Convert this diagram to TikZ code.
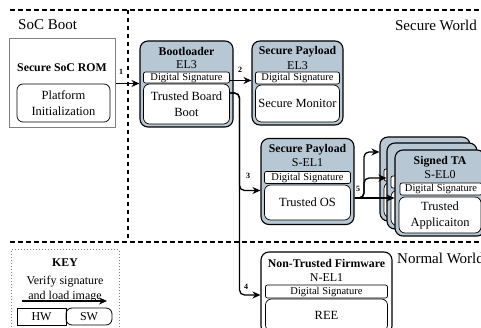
\documentclass[tikz,border=0pt]{standalone}
\usepackage{fontspec}
\setmainfont{Liberation Serif}
\usetikzlibrary{arrows.meta}
\definecolor{boxgray}{RGB}{184,199,212}
\begin{document}
\begin{tikzpicture}[x=1pt,y=-1pt,
  outer/.style={draw, line width=1.1pt, rounded corners=8pt, fill=boxgray, inner sep=0pt},
  ds/.style={draw, line width=0.7pt, rounded corners=2pt, fill=white, inner sep=0pt, font=\fontsize{10.5}{10.5}\selectfont},
  inbox/.style={draw, line width=0.7pt, rounded corners=6pt, fill=white, inner sep=0pt, align=center, font=\fontsize{12.5}{16}\selectfont},
  ttl/.style={font=\bfseries\fontsize{11.8}{12}\selectfont, inner sep=0pt},
  sub/.style={font=\fontsize{12}{12}\selectfont, inner sep=0pt},
  num/.style={font=\bfseries\fontsize{8}{8}\selectfont, inner sep=0pt},
  arr/.style={line width=1.3pt, -{Stealth[length=8pt,width=7pt]}, rounded corners=5pt},
  sep/.style={line width=1.4pt, dash pattern=on 4.5pt off 3.5pt},
  big/.style={font=\fontsize{15}{15}\selectfont, inner sep=0pt},
]
\useasboundingbox (0,0) rectangle (481,328);

% separators
\draw[sep] (10,10) -- (481,10);
\draw[sep] (10,242) -- (481,242);
\draw[sep] (128,10) -- (128,242);

\node[big, anchor=west] (socboot) at (18,25) {SoC Boot};
\node[big, anchor=east] (secworld) at (477,25) {Secure World};
\node[big, anchor=west] (normworld) at (397,258) {Normal World};

% Secure SoC ROM
\node[draw=gray, line width=1pt, minimum width=106pt, minimum height=89pt, inner sep=0pt] (rom) at (62,83.5) {};
\node[ttl] (romt) at (62,68) {Secure SoC ROM};
\node[inbox, minimum width=93pt, minimum height=38pt] (plat) at (63.5,103) {Platform\\Initialization};

% Bootloader
\node[outer, minimum width=93pt, minimum height=86pt] (boot) at (186.5,84) {};
\node[ttl] (bootT) at (186.5,51) {Bootloader};
\node[sub] (bootE) at (186.5,65) {EL3};
\node[ds, minimum width=86pt, minimum height=11pt] (bootds) at (186.5,77.5) {Digital Signature};
\node[inbox, minimum width=86pt, minimum height=40pt] (tbb) at (186.5,104) {Trusted Board\\Boot};

% Secure Payload EL3
\node[outer, minimum width=91pt, minimum height=84pt] (sp3) at (297.5,83) {};
\node[ttl] (sp3T) at (297.5,52) {Secure Payload};
\node[sub] (sp3E) at (297.5,66) {EL3};
\node[ds, minimum width=84pt, minimum height=12pt] (sp3ds) at (297.5,78) {Digital Signature};
\node[inbox, minimum width=84pt, minimum height=37pt] (sm) at (297.5,103.5) {Secure Monitor};

% Secure Payload S-EL1
\node[outer, minimum width=93pt, minimum height=86pt] (sp1) at (307.5,181.5) {};
\node[ttl] (sp1T) at (307.5,149.5) {Secure Payload};
\node[sub] (sp1E) at (307.5,162.5) {S-EL1};
\node[ds, minimum width=86pt, minimum height=12pt] (sp1ds) at (307.5,177.5) {Digital Signature};
\node[inbox, minimum width=86pt, minimum height=35pt] (tos) at (307.5,202.5) {Trusted OS};

% Signed TA stack
\node[outer, minimum width=90pt, minimum height=84pt] (taB) at (425,179) {};
\node[ds, minimum width=82pt, minimum height=12pt] (taBds) at (425,175) {};
\node[inbox, minimum width=82pt, minimum height=35pt] (taBin) at (425,200) {};
\node[outer, minimum width=90pt, minimum height=86pt] (taM) at (432,186) {};
\node[ds, minimum width=82pt, minimum height=12pt] (taMds) at (432,182) {};
\node[inbox, minimum width=82pt, minimum height=35pt] (taMin) at (432,208) {};
\node[outer, minimum width=90pt, minimum height=86pt] (taF) at (440,193) {};
\node[ttl] (taFT) at (440,161.5) {Signed TA};
\node[sub] (taFE) at (440,174.5) {S-EL0};
\node[ds, minimum width=82pt, minimum height=12pt] (taFds) at (441,189) {Digital Signature};
\node[inbox, minimum width=82pt, minimum height=36pt] (taFin) at (440,215) {Trusted\\Applicaiton};

% Non-Trusted Firmware
\node[outer, fill=white, minimum width=131pt, minimum height=82pt] (ntf) at (326.5,293) {};
\node[ttl] (ntfT) at (326.5,263) {Non-Trusted Firmware};
\node[sub] (ntfE) at (326.5,277.5) {N-EL1};
\node[ds, minimum width=122pt, minimum height=13pt] (ntfds) at (326.5,291.5) {Digital Signature};
\node[inbox, minimum width=122pt, minimum height=32pt] (ree) at (326.5,315) {REE};

% connectors
\draw[arr] (rom.east) -- (rom.east -| boot.west);
\node[num] (n1) at (121,72) {1};
\draw[arr] ([yshift=-3pt]bootds.east) -- ([yshift=-3pt]bootds.east -| sp3.west);
\node[num] (n2) at (240,70) {2};

\coordinate (trunk) at (239.5,0);
\coordinate (in3) at ([yshift=-9pt]sp1.west);
\coordinate (in4) at ([yshift=-2pt]ntf.west);
\draw[arr] ([yshift=11pt]tbb.east) -| (trunk |- in3) -- (in3);
\draw[arr] ([yshift=11pt]tbb.east) -| (trunk |- in4) -- (in4);
\node[num] (n3) at (248,176) {3};
\node[num] (n4) at (246,287) {4};

\coordinate (out5) at ([yshift=-16.5pt]sp1.east);
\coordinate (br5) at (364,0);
\coordinate (inM) at ([yshift=8pt]taM.west);
\coordinate (inB) at ([yshift=27pt]taB.west);
\draw[arr] (out5) -- (out5 -| taF.west);
\draw[arr] (out5) -| (br5 |- inM) -- (inM);
\draw[arr] (out5) -| (br5 |- inB) -- (inB);
\node[num] (n5) at (358,189) {5};

% KEY
\node[draw=gray, dotted, line width=1pt, minimum width=108pt, minimum height=86pt, inner sep=0pt] (key) at (65,293) {};
\node[ttl] (keyT) at (65,263) {KEY};
\node[inner sep=0pt, align=center, font=\fontsize{12}{15}\selectfont] (keytxt) at (65,289) {Verify signature\\and load image};
\coordinate (k1) at (22,301);
\coordinate (k2) at (107,301);
\draw[arr] (k1) -- (k2);
\node[draw, line width=0.8pt, minimum width=49pt, minimum height=17pt, inner sep=0pt, font=\fontsize{12}{12}\selectfont] (hw) at (41.5,316.5) {HW};
\node[draw, line width=0.8pt, rounded corners=6pt, minimum width=46pt, minimum height=17pt, inner sep=0pt, font=\fontsize{12}{12}\selectfont] (swk) at (89,316.5) {SW};
\end{tikzpicture}
\end{document}
